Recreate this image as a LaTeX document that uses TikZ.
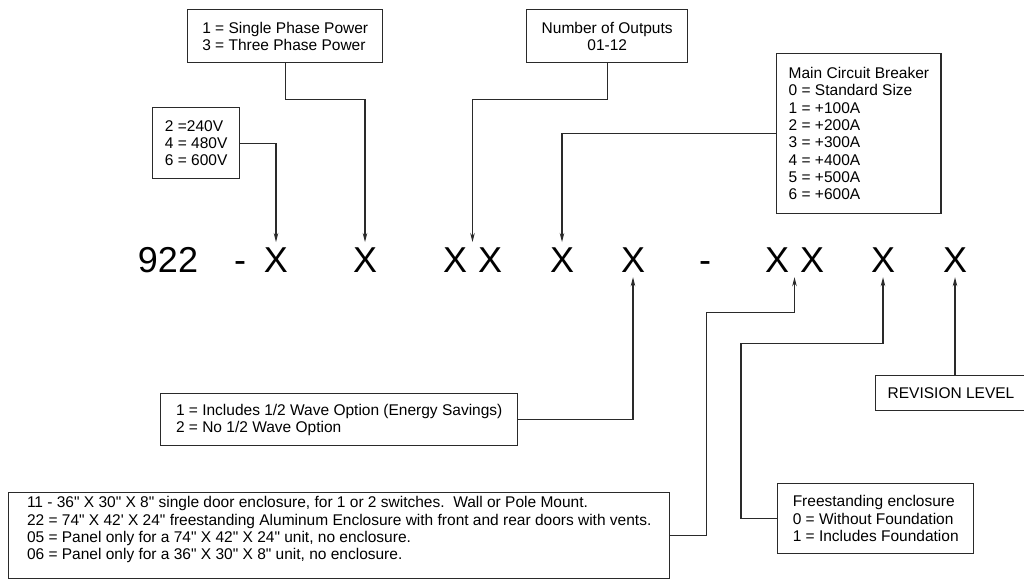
\documentclass[tikz,border=0pt]{standalone}
\usepackage{fontspec}
\setmainfont{Liberation Sans}
\usetikzlibrary{positioning,arrows.meta,calc}
\definecolor{edge}{HTML}{2A2A2A}
\newcommand{\inchmark}{\textquotedbl}

\begin{document}
\begin{tikzpicture}[x=1pt,y=-1pt,
    every node/.style={font=\fontsize{15.5}{17.3}\selectfont},
    infobox/.style={draw=edge,line width=1.4pt,anchor=north west,inner xsep=12pt,inner ysep=0pt,align=left},
    code/.style={font=\fontsize{36}{36}\selectfont,anchor=base,inner sep=5pt},
    conn/.style={draw=edge,line width=1.1pt,-{Stealth[length=9pt,width=4.5pt]}}]
  \useasboundingbox (0,0) rectangle (1024,580);
  \node[code] (pre) at (168,272) {922};
  \node[code] (d1)  at (240,272) {-};
  \node[code] (x1)  at (276,272) {X};
  \node[code] (x2)  at (365,272) {X};
  \node[code] (x3a) at (455,272) {X};
  \node[code] (x3b) at (490,272) {X};
  \node[code] (x4)  at (562,272) {X};
  \node[code] (x5)  at (633,272) {X};
  \node[code] (d2)  at (705,272) {-};
  \node[code] (x6a) at (777,272) {X};
  \node[code] (x6b) at (812,272) {X};
  \node[code] (x7)  at (883,272) {X};
  \node[code] (x8)  at (955,272) {X};
  \coordinate (x3) at ($(x3a.north)!0.5!(x3b.north)$);
  \coordinate (x6) at ($(x6a.south)!0.5!(x6b.south)$);

  \node[infobox,minimum width=87,minimum height=71] (volt) at (152,107) {2 =240V\\4 = 480V\\6 = 600V};
  \node[infobox,minimum width=195,minimum height=53] (phase) at (187,9) {1 = Single Phase Power\\3 = Three Phase Power};
  \node[infobox,align=center,minimum width=161,minimum height=53] (outputs) at (526,9) {Number of Outputs\\01-12};
  \node[infobox,minimum width=161,minimum height=160] (breaker) at (776,53) {Main Circuit Breaker\\0 = Standard Size\\1 = +100A\\2 = +200A\\3 = +300A\\4 = +400A\\5 = +500A\\6 = +600A};
  \node[infobox,minimum width=357,minimum height=52] (wave) at (160,393) {1 = Includes 1/2 Wave Option (Energy Savings)\\2 = No 1/2 Wave Option};
  \node[infobox,minimum width=661,minimum height=86,text depth=15pt] (encl) at (8,492) {11 - 36\inchmark\ X 30\inchmark\ X 8\inchmark\ single door enclosure, for 1 or 2 switches.\ \ Wall or Pole Mount.\\22 = 74\inchmark\ X 42\textquotesingle\ X 24\inchmark\ freestanding Aluminum Enclosure with front and rear doors with vents.\\05 = Panel only for a 74\inchmark\ X 42\inchmark\ X 24\inchmark\ unit, no enclosure.\\06 = Panel only for a 36\inchmark\ X 30\inchmark\ X 8\inchmark\ unit, no enclosure.};
  \node[infobox,minimum width=196,minimum height=70] (fs) at (777,483) {Freestanding enclosure\\0 = Without Foundation\\1 = Includes Foundation};
  \node[infobox,align=center,minimum width=146,minimum height=35] (rev) at (875,375) {REVISION LEVEL};

  \draw[conn] (volt.east) -| (x1.north);
  \draw[conn] (phase.south) -- ++(0,36) -| (x2.north);
  \draw[conn] (outputs.south) -- ++(0,36) -| (x3);
  \draw[conn] (breaker.west) -| (x4.north);
  \draw[conn] (wave.east) -| (x5.south);
  \draw[conn] (encl.east) -- ++(36,0) -- ++(0,-223) -| (x6);
  \draw[conn] (fs.west) -- ++(-36,0) -- ++(0,-175) -| (x7.south);
  \draw[conn] (x8.south |- rev.north) -- (x8.south);
\end{tikzpicture}
\end{document}
